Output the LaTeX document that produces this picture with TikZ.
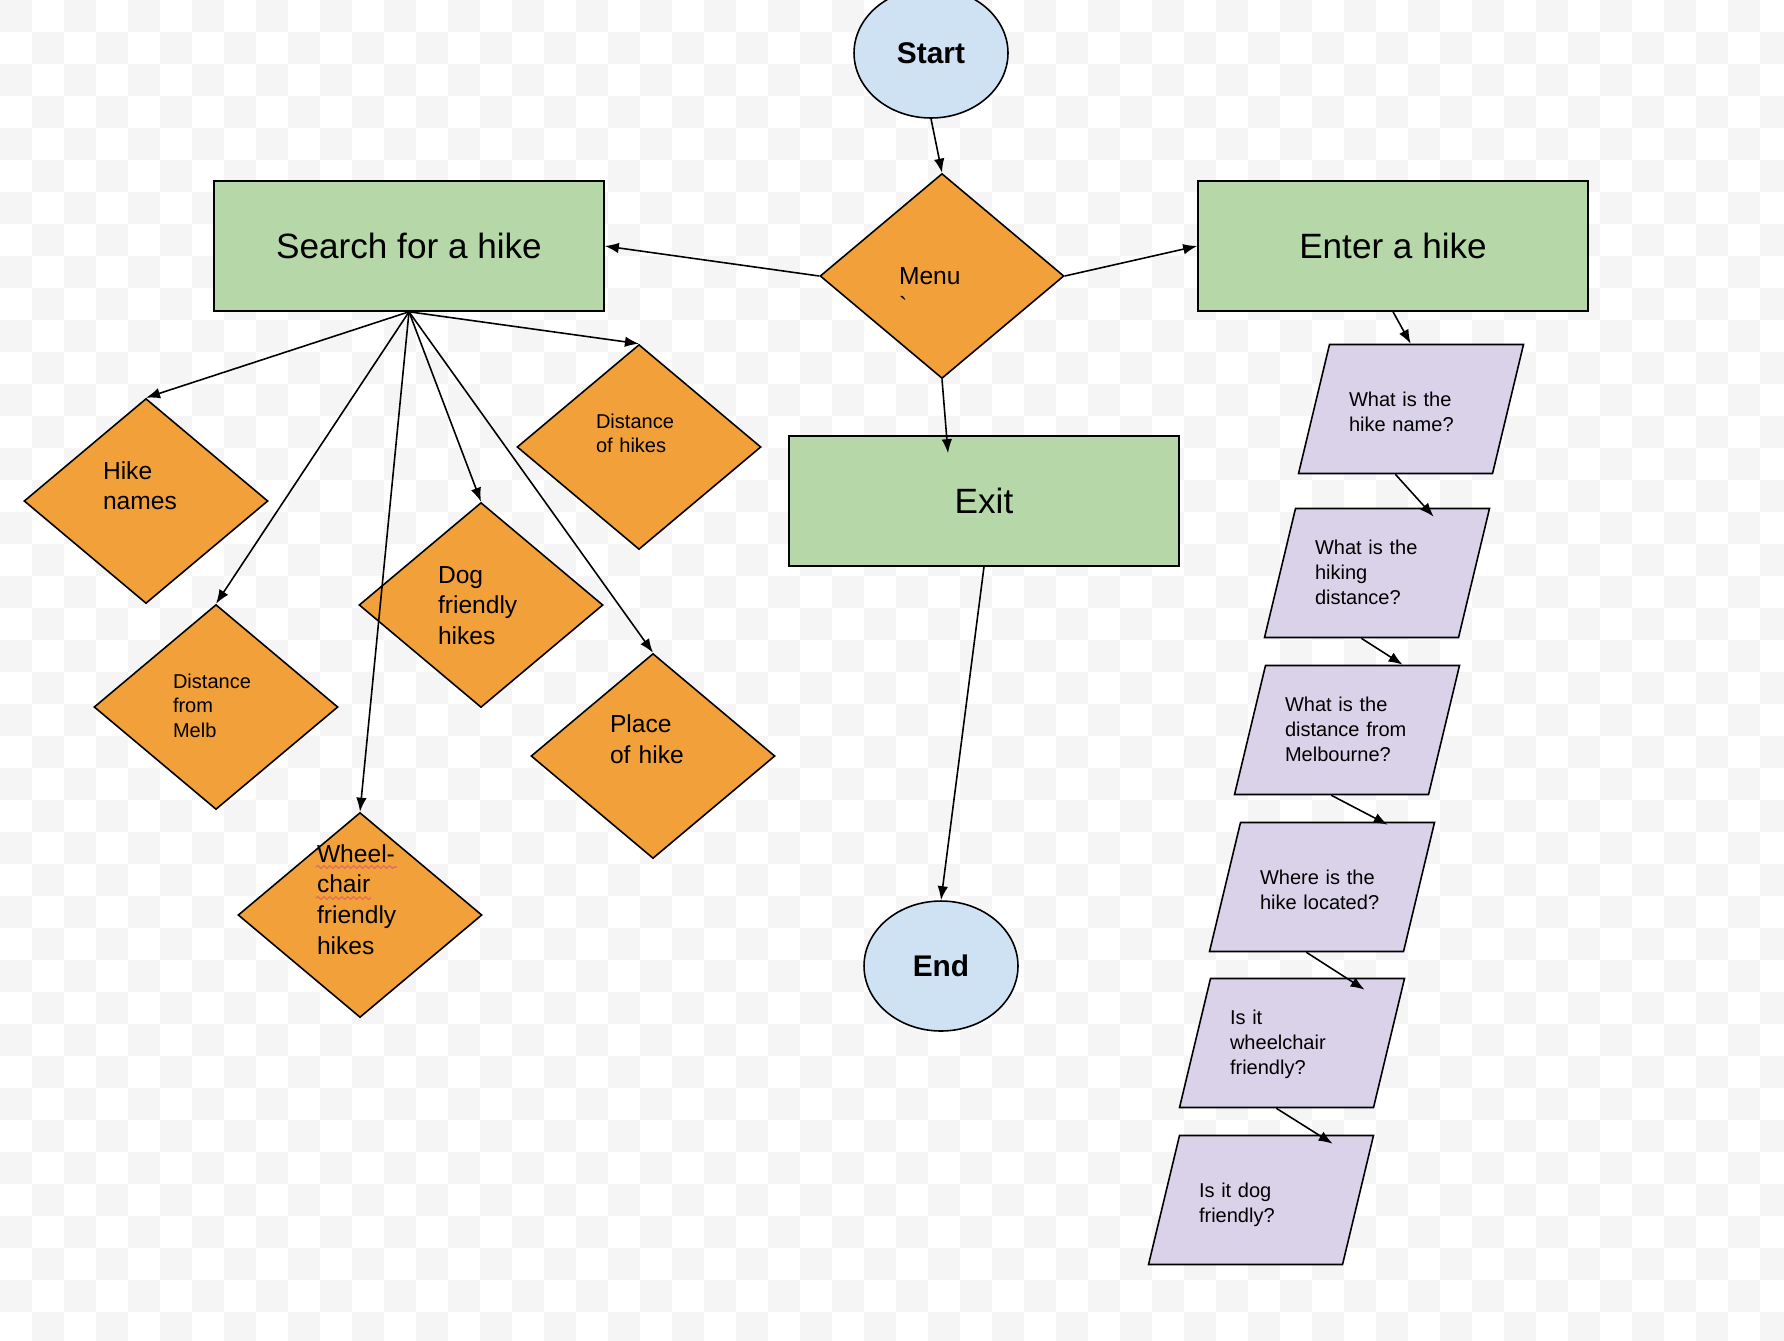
\documentclass[tikz,border=0pt]{standalone}
\usepackage{fontspec}
\setmainfont{Liberation Sans}
\usetikzlibrary{arrows.meta,shapes.geometric,calc,decorations.pathmorphing}
\definecolor{hikegreen}{HTML}{B6D7A8}
\definecolor{hikeorange}{HTML}{F2A03A}
\definecolor{hikeblue}{HTML}{CFE2F3}
\definecolor{hikelilac}{HTML}{D9D2E9}
\definecolor{checker}{HTML}{F5F5F5}
\definecolor{spellred}{HTML}{E06666}
\tikzset{
	box/.style={draw,fill=hikegreen,minimum width=7.8cm,minimum height=2.6cm,inner sep=0pt,font=\fontsize{20}{24}\selectfont},
	oval/.style={draw,ellipse,fill=hikeblue,minimum width=3.08cm,minimum height=2.6cm,inner sep=0pt,font=\fontsize{17}{20}\selectfont\bfseries},
	choice/.style={draw,diamond,fill=hikeorange,aspect=1.19,minimum width=4.88cm,minimum height=4.1cm,inner sep=1pt,text width=1.72cm,align=left,text height=0pt,font=\fontsize{14}{17.5}\selectfont},
	choicesmall/.style={choice,font=\fontsize{11.4}{14.2}\selectfont},
	question/.style={draw,trapezium,trapezium left angle=76.5,trapezium right angle=103.5,trapezium stretches body,fill=hikelilac,minimum width=4.5cm,minimum height=2.58cm,inner ysep=0pt,text width=2.48cm,align=left,font=\fontsize{11.4}{14.2}\selectfont},
	qtwo/.style={question,text height=1.235cm,text depth=1.345cm},
	qthree/.style={question,text height=0.92cm,text depth=1.66cm},
	arr/.style={-{Latex[length=8pt,width=6pt]}},
	squiggle/.style={spellred,line width=0.6pt,decorate,decoration={snake,amplitude=0.8pt,segment length=3.4pt}}
}
\begin{document}
\begin{tikzpicture}[x=0.02cm,y=-0.02cm,line width=0.9pt]
	\useasboundingbox (0,0) rectangle (1784,1340);
	\foreach \i in {0,2,...,54}
		\foreach \j in {0,2,...,40}
			{\fill[checker] (\i*32,\j*32) rectangle ++(32,32);
			\fill[checker] (\i*32+32,\j*32+32) rectangle ++(32,32);}
	\node (start) at (931,53) [oval] {Start};
	\node (menu) at (942,276) [choice,text height=0.32cm,text depth=0pt] {Menu\\\textasciigrave};
	\node (search) at (409,246) [box] {Search for a hike};
	\node (enter) at (1393,246) [box] {Enter a hike};
	\node (exit) at (984,501) [box] {Exit};
	\node (end) at (941,966) [oval] {End};
	\node (hikenames) at (146,501) [choice,text depth=0.88cm] {Hike\\names};
	\node (distofhikes) at (639,447) [choicesmall,text depth=0.76cm] {Distance\\of hikes};
	\node (distmelb) at (216,707) [choicesmall,text depth=0.76cm] {Distance\\from\\Melb};
	\node (dogfriendly) at (481,605) [choice,text depth=0.88cm] {Dog\\friendly\\hikes};
	\node (placeofhike) at (653,756) [choice,text depth=0.94cm] {Place\\of hike};
	\node (wheelchair) at (360,915) [choice,text depth=2.12cm] {Wheel-\\chair\\friendly\\hikes};
	\node (q1) at (1411,409) [qtwo] {What is the\\hike name?};
	\node (q2) at (1377,573) [qthree] {What is the\\hiking\\distance?};
	\node (q3) at (1347,730) [qthree] {What is the\\distance from\\Melbourne?};
	\node (q4) at (1322,887) [qtwo] {Where is the\\hike located?};
	\node (q5) at (1292,1043) [qthree] {Is it\\wheelchair\\friendly?};
	\node (q6) at (1261,1200) [qtwo] {Is it dog\\friendly?};
	\draw[arr] (start.south) -- (menu.north);
	\draw[arr] (menu.west) -- (search.east);
	\draw[arr] (menu.east) -- (enter.west);
	\draw[arr] (menu.south) -- ($(exit.north)+(-36,18)$);
	\draw[arr] (exit.south) -- (end.north);
	\foreach \d in {hikenames,distmelb,wheelchair,dogfriendly,placeofhike,distofhikes}
		\draw[arr] (search.south) -- (\d.north);
	\draw[arr] (enter.south) -- ($(q1.top side)+(-16,0)$);
	\draw[arr] (q1.bottom side) -- ($(q2.top side)+(41,9)$);
	\draw[arr] (q2.bottom side) -- ($(q3.top side)+(40,0)$);
	\draw[arr] (q3.bottom side) -- ($(q4.top side)+(50,3)$);
	\draw[arr] (q4.bottom side) -- ($(q5.top side)+(57,12)$);
	\draw[arr] (q5.bottom side) -- ($(q6.top side)+(56,9)$);
	\draw[squiggle] ($(wheelchair)+(-44,-48)$) -- ++(81,0);
	\draw[squiggle] ($(wheelchair)+(-44,-17)$) -- ++(55,0);
\end{tikzpicture}
\end{document}
